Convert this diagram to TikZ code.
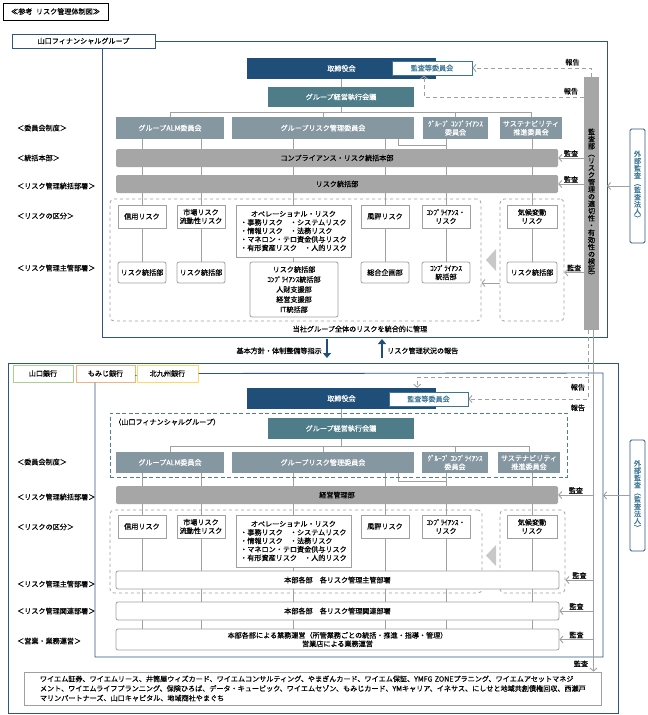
\documentclass[tikz,border=0pt]{standalone}
\usepackage{fontspec}
\setmainfont{Noto Sans CJK JP}[FakeBold=0.4]
\usetikzlibrary{arrows.meta,backgrounds,shadows}
\definecolor{ymnavy}{RGB}{31,78,121}
\definecolor{ymteal}{RGB}{78,124,136}
\definecolor{ymslate}{RGB}{133,151,160}
\definecolor{ymgray}{RGB}{166,166,166}
\definecolor{ymline}{RGB}{160,160,160}
\definecolor{ymtri}{RGB}{200,200,200}
\definecolor{ymframe}{RGB}{47,85,130}
\definecolor{ymaudit}{RGB}{60,118,148}
\definecolor{ymdteal}{RGB}{80,125,145}
\definecolor{ymgreen}{RGB}{169,209,142}
\definecolor{ymsalmon}{RGB}{244,177,131}
\definecolor{ymyellow}{RGB}{255,217,102}

\begin{document}
\begin{tikzpicture}[x=1pt,y=-1pt,
  font=\fontsize{7.1}{8.5}\selectfont,
  every node/.style={inner sep=0pt},
  titlebox/.style={draw=black,line width=0.9pt,fill=white,minimum width=105,minimum height=17,
    drop shadow={shadow xshift=1.2pt,shadow yshift=-1.2pt,opacity=1,fill=black}},
  grplabel/.style={draw=ymframe,line width=0.9pt,fill=white,minimum width=143,minimum height=14},
  banklabel/.style={line width=1pt,fill=white,minimum height=17},
  grpframe/.style={draw=ymframe,line width=0.9pt},
  boardbox/.style={fill=ymnavy,text=white,minimum height=21},
  acombox/.style={draw=ymaudit,line width=0.9pt,fill=white,text=ymaudit,minimum height=14},
  execbox/.style={fill=ymteal,text=white,minimum height=20},
  cmtebox/.style={fill=ymslate,text=white,align=center,minimum height=22},
  barbox/.style={fill=ymgray,rounded corners=1.5pt,minimum height=18},
  riskbox/.style={draw=ymline,line width=0.8pt,fill=white,align=center,minimum height=23},
  deptbox/.style={riskbox,rounded corners=2pt,minimum height=21},
  whitebar/.style={draw=ymline,line width=0.8pt,fill=white,rounded corners=2pt,align=center,
    minimum width=443,minimum height=18},
  zonebox/.style={draw=ymline,line width=0.8pt,dashed,rounded corners=4pt},
  fgdash/.style={draw=ymdteal,line width=1pt,dash pattern=on 4pt off 2.5pt},
  auditbar/.style={fill=ymgray,minimum width=15,minimum height=253,align=center,
    font=\fontsize{7.1}{7.2}\selectfont},
  extbox/.style={draw=ymframe,line width=0.9pt,rounded corners=1.5pt,fill=white,text=ymaudit,
    minimum width=15,align=center,font=\fontsize{7.1}{7.2}\selectfont},
  rowlabel/.style={anchor=west},
  linkline/.style={draw=ymline,line width=0.9pt},
  auditarrow/.style={draw=ymline,line width=0.9pt,-{Straight Barb[length=3pt,width=7pt]}},
  reportarrow/.style={auditarrow,dash pattern=on 4pt off 3pt},
  navyarrow/.style={draw=ymnavy,line width=2.5pt,-{Triangle[length=5pt,width=8pt]}}]

\useasboundingbox (0,0) rectangle (648,715);

% title
\node[titlebox] (title) at (55.5,11.5) {≪参考\hspace{0.5em}リスク管理体制図≫};

% ---- holding company
\node[grplabel] (fg) at (83.5,41) {山口フィナンシャルグループ};
\coordinate (fgne) at (607,41);
\coordinate (fgse) at (607,337);
\coordinate (fgsw) at (102,337);
\draw[grpframe] (fg.east) -- (fgne) -- (fgse) -- (fgsw) -- (fgsw |- fg.south);

\node[rowlabel] at (17,128) {＜委員会制度＞};
\node[rowlabel] at (17,158) {＜統括本部＞};
\node[rowlabel] at (17,186) {＜リスク管理統括部署＞};
\node[rowlabel] at (17,216) {＜リスクの区分＞};
\node[rowlabel] at (17,268) {＜リスク管理主管部署＞};

\node[boardbox,minimum width=189] (board) at (341.5,68.5) {取締役会};
\node[acombox,minimum width=80] (acom) at (432,68) {監査等委員会};
\node[execbox,minimum width=146] (exec) at (341,97) {グループ経営執行会議};

\node[cmtebox,minimum width=108] (alm) at (170,128) {グループALM委員会};
\node[cmtebox,minimum width=182] (riskc) at (323,128) {グループリスク管理委員会};
\node[cmtebox,minimum width=65] (cmpc) at (455.5,128) {ｸﾞﾙｰﾌﾟ ｺﾝﾌﾟﾗｲｱﾝｽ\\委員会};
\node[cmtebox,minimum width=62] (sust) at (531,128) {サステナビリティ\\推進委員会};

\node[barbox,minimum width=442] (hq) at (337,158) {コンプライアンス・リスク統括本部};
\node[barbox,minimum width=442] (rbar) at (337,184) {リスク統括部};

\node[zonebox,minimum width=371,minimum height=122] (lzone) at (295.5,260) {};
\node[zonebox,minimum width=64,minimum height=122] (rzone) at (532,260) {};

\coordinate (c1) at (142,0);
\coordinate (c2) at (201,0);
\coordinate (c3) at (293,0);
\coordinate (c4) at (385,0);
\coordinate (c5) at (446,0);
\coordinate (c6) at (532,0);

\node[riskbox,minimum width=48] (credit) at (142,216.5) {信用リスク};
\node[riskbox,minimum width=48] (market) at (201,216.5) {市場リスク\\流動性リスク};
\node[riskbox,minimum width=115,minimum height=52,align=left] (oper) at (293.5,231)
  {\hspace*{1.5em}オペレーショナル・リスク\\・事務リスク　・システムリスク\\・情報リスク　・法務リスク\\・マネロン・テロ資金供与リスク\\・有形資産リスク　・人的リスク};
\node[riskbox,minimum width=48] (repu) at (385,216.5) {風評リスク};
\node[riskbox,minimum width=48] (cmprisk) at (446,216.5) {ｺﾝﾌﾟﾗｲｱﾝｽ・\\リスク};
\node[riskbox,minimum width=50] (climate) at (532,216.5) {気候変動\\リスク};

\node[deptbox,minimum width=48] (crdept) at (142,272.5) {リスク統括部};
\node[deptbox,minimum width=48] (mkdept) at (201,272.5) {リスク統括部};
\node[deptbox,minimum width=88,minimum height=55,font=\fontsize{7.1}{10}\selectfont] (opdept) at (294,289.5)
  {リスク統括部\\ｺﾝﾌﾟﾗｲｱﾝｽ統括部\\人財支援部\\経営支援部\\IT統括部};
\node[deptbox,minimum width=48] (pldept) at (385,272.5) {総合企画部};
\node[deptbox,minimum width=48] (cmdept) at (446,272.5) {ｺﾝﾌﾟﾗｲｱﾝｽ\\統括部};
\node[deptbox,minimum width=50] (cldept) at (532,272.5) {リスク統括部};

\fill[ymtri] (496,249) -- (496,271) -- (486,260) -- cycle;

\node[auditbar] (auditcol) at (591.5,203.5)
  {監\\査\\部\\︵\\リ\\ス\\ク\\管\\理\\の\\適\\切\\性\\・\\有\\効\\性\\の\\検\\証\\︶};
\node[extbox,minimum height=114] (ext) at (637.5,186) {外\\部\\監\\査\\︵\\監\\査\\法\\人\\︶};

\node (fgnote) at (360,329) {当社グループ全体のリスクを統合的に管理};

\draw[auditarrow] (auditcol.west |- hq.east) -- node[above=1pt,text=black]{監査} (hq.east);
\draw[auditarrow] (auditcol.west |- rbar.east) -- node[above=1pt,text=black]{監査} (rbar.east);
\draw[auditarrow] (auditcol.west |- cldept.east) -- node[above=1pt,text=black]{監査} (rzone.east |- cldept.east);
\draw[auditarrow] ([yshift=-23]rzone.west) -- ([yshift=-23]lzone.east);
\draw[reportarrow] (auditcol.north) |- node[pos=0.58,above=2pt,text=black]{報告} (acom.east);
\draw[reportarrow] (auditcol.west |- exec.east) -| node[pos=0.04,above=2pt,text=black]{報告} ([xshift=-8]acom.south);
\draw[auditarrow] (ext.west) -- (ext.west -| fgne);

% between the two
\coordinate (dirtop) at (327,339);
\coordinate (dirbot) at (327,358);
\coordinate (reptop) at (382,339);
\coordinate (repbot) at (382,358);
\draw[navyarrow] (dirtop) -- (dirbot) node[pos=0.62,left=4pt,text=black]{基本方針・体制整備等指示};
\draw[navyarrow] (repbot) -- (reptop) node[pos=0.38,right=4pt,text=black]{リスク管理状況の報告};

% ---- banks
\draw[grpframe] (8,363) rectangle (618,713);
\node[banklabel,draw=ymgreen,minimum width=60] (yb) at (43,373.5) {山口銀行};
\node[banklabel,draw=ymsalmon,minimum width=59] (mb) at (105.5,373.5) {もみじ銀行};
\node[banklabel,draw=ymyellow,minimum width=61] (kb) at (167.5,373.5) {北九州銀行};
\node[font=\fontsize{4}{4}\selectfont] at (136,376) {・};
\coordinate (bkne) at (603,373);
\coordinate (bkse) at (603,657);
\coordinate (bksw) at (95,657);
\draw[grpframe] (kb.east) -- (bkne) -- (bkse) -- (bksw) -- (bksw |- mb.south);

\node[rowlabel] at (17,462) {＜委員会制度＞};
\node[rowlabel] at (17,497) {＜リスク管理統括部署＞};
\node[rowlabel] at (17,527) {＜リスクの区分＞};
\node[rowlabel] at (17,584) {＜リスク管理主管部署＞};
\node[rowlabel] at (17,611) {＜リスク管理関連部署＞};
\node[rowlabel] at (17,641) {＜営業・業務運営＞};

\node[boardbox,minimum width=189] (bboard) at (341.5,398.5) {取締役会};
\node[acombox,minimum width=79] (bacom) at (428.5,399) {監査等委員会};

\node[fgdash,minimum width=457,minimum height=64] (fgarea) at (338.5,445) {};
\node[anchor=west] (fgtag) at (114,422) {（山口フィナンシャルグループ）};
\node[execbox,minimum width=146,minimum height=21] (bexec) at (341,428.5) {グループ経営執行会議};

\node[cmtebox,minimum width=108,minimum height=21] (balm) at (170,462.5) {グループALM委員会};
\node[cmtebox,minimum width=182,minimum height=21] (briskc) at (323,462.5) {グループリスク管理委員会};
\node[cmtebox,minimum width=66,minimum height=21] (bcmpc) at (455,462.5) {ｸﾞﾙｰﾌﾟ ｺﾝﾌﾟﾗｲｱﾝｽ\\委員会};
\node[cmtebox,minimum width=62,minimum height=21] (bsust) at (529,462.5) {サステナビリティ\\推進委員会};

\node[barbox,minimum width=442] (bmgmt) at (337,495) {経営管理部};

\node[zonebox,minimum width=372,minimum height=83] (blzone) at (296,551.5) {};
\node[zonebox,minimum width=65,minimum height=83] (brzone) at (532.5,551.5) {};

\node[riskbox,minimum width=48] (bcredit) at (142,526.5) {信用リスク};
\node[riskbox,minimum width=48] (bmarket) at (201,526.5) {市場リスク\\流動性リスク};
\node[riskbox,minimum width=115,minimum height=52,align=left] (boper) at (293.5,541)
  {\hspace*{1.5em}オペレーショナル・リスク\\・事務リスク　・システムリスク\\・情報リスク　・法務リスク\\・マネロン・テロ資金供与リスク\\・有形資産リスク　・人的リスク};
\node[riskbox,minimum width=48] (brepu) at (385,526.5) {風評リスク};
\node[riskbox,minimum width=48] (bcmprisk) at (446,526.5) {ｺﾝﾌﾟﾗｲｱﾝｽ・\\リスク};
\node[riskbox,minimum width=50] (bclimate) at (532,526.5) {気候変動\\リスク};

\fill[ymtri] (496,545) -- (496,566) -- (486,555.5) -- cycle;

\node[whitebar] (bmain) at (337.5,580) {本部各部　各リスク管理主管部署};
\node[whitebar] (brel) at (337.5,611) {本部各部　各リスク管理関連部署};
\node[whitebar,minimum height=21] (bops) at (337.5,639.5)
  {本部各部による業務運営（所管業務ごとの統括・推進・指導・管理）\\営業店による業務運営};

\node[extbox,minimum height=111] (bext) at (637.5,495.5) {外\\部\\監\\査\\︵\\監\\査\\法\\人\\︶};

\node[draw=ymline,line width=0.8pt,fill=white,minimum width=577,minimum height=33,
  text width=545,align=left,font=\fontsize{7.1}{9.6}\selectfont] (subs) at (312.5,688.5)
  {ワイエム証券、ワイエムリース、井筒屋ウィズカード、ワイエムコンサルティング、やまぎんカード、ワイエム保証、YMFG~ZONEプラニング、ワイエムアセットマネジ\\
   メント、ワイエムライフプランニング、保険ひろば、データ・キュービック、ワイエムセゾン、もみじカード、YMキャリア、イネサス、にしせと地域共創債権回収、西瀬戸\\
   マリンパートナーズ、山口キャピタル、地域商社やまぐち};

% audit and report paths
\coordinate (aud) at ([xshift=2]auditcol.south);
\coordinate (rpt) at (588.5,377);
\draw[reportarrow] ([xshift=-3]auditcol.south) |- node[pos=0.544,above=8pt,text=black]{報告}
  node[pos=0.544,below=5pt,text=black]{報告} (bacom.east);
\draw[reportarrow] (rpt) -| ([xshift=-19]bboard.north east);
\draw[auditarrow] (aud |- bmgmt.east) -- node[above=1pt,text=black]{監査} (bmgmt.east);
\draw[auditarrow] (aud |- bmain.east) -- node[above=1pt,text=black]{監査} (brzone.east |- bmain.east);
\draw[auditarrow] (aud |- brel.east) -- node[above=1pt,text=black]{監査} (brel.east);
\draw[auditarrow] (aud |- bops.east) -- node[above=1pt,text=black]{監査} (bops.east);
\draw[auditarrow] (aud) -- node[pos=0.977,left=5pt,text=black]{監査} (aud |- subs.north);
\draw[auditarrow] (bext.west) -- (bext.west -| bkne);

\begin{pgfonlayer}{background}
  \fill[white] (0,0) rectangle (648,715);
  % holding company lines
  \draw[linkline] (board.south -| exec.north) -- (exec.north);
  \draw[linkline] (exec.south) -- ++(0,5) coordinate (tb);
  \draw[linkline] (alm.north) |- (tb) -| (sust.north);
  \draw[linkline] (riskc.north) -- (riskc.north |- tb);
  \draw[linkline] (cmpc.north) -- (cmpc.north |- tb);
  \draw[linkline] (alm.south -| c1) -- (crdept.north);
  \draw[linkline] (alm.south -| c2) -- (mkdept.north);
  \draw[linkline] (riskc.south -| c3) -- (opdept.north -| c3);
  \draw[linkline] (riskc.south -| c4) -- (pldept.north);
  \draw[linkline] (cmpc.south -| c5) -- (cmdept.north);
  \draw[linkline] (sust.south -| c6) -- (cldept.north);
  \draw[linkline] ([xshift=75]riskc.south) -- ++(0,6) -| (cmpc.south -| c5);
  % bank lines
  \draw[linkline] (bboard.south -| bexec.north) -- (bexec.north);
  \draw[linkline] (bexec.south) -- ++(0,7) coordinate (btb);
  \draw[linkline] (balm.north) |- (btb) -| (bsust.north);
  \draw[linkline] (briskc.north) -- (briskc.north |- btb);
  \draw[linkline] (bcmpc.north) -- (bcmpc.north |- btb);
  \draw[linkline] (balm.south -| c1) -- (bops.north -| c1);
  \draw[linkline] (balm.south -| c2) -- (bops.north -| c2);
  \draw[linkline] (briskc.south -| c3) -- (bops.north -| c3);
  \draw[linkline] (briskc.south -| c4) -- (bops.north -| c4);
  \draw[linkline] (bcmpc.south -| c5) -- (bops.north -| c5);
  \draw[linkline] (bsust.south -| c6) -- (bops.north -| c6);
  \draw[linkline] ([xshift=75]briskc.south) -- ++(0,8) -| (bcmpc.south -| c5);
\end{pgfonlayer}
\end{tikzpicture}
\end{document}
